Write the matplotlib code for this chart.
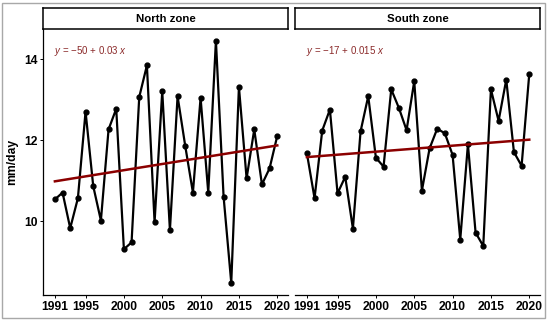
import matplotlib
matplotlib.use("Agg")
import matplotlib.pyplot as plt
from matplotlib.patches import Rectangle
import numpy as np

plt.rcParams['font.family'] = ['Liberation Sans', 'DejaVu Sans']
plt.rcParams['mathtext.fontset'] = 'custom'
plt.rcParams['mathtext.it'] = 'Liberation Sans:italic'
plt.rcParams['mathtext.rm'] = 'Liberation Sans'

years = list(range(1991, 2021))
north = [10.54, 10.71, 9.83, 10.57, 12.71, 10.87, 10.02, 12.27, 12.78, 9.31,
         9.48, 13.07, 13.85, 9.98, 13.21, 9.78, 13.09, 11.86, 10.71, 13.05,
         10.71, 14.46, 10.61, 8.48, 13.32, 11.06, 12.27, 10.91, 11.31, 12.11]
south = [11.68, 10.57, 12.24, 12.76, 10.69, 11.10, 9.82, 12.22, 13.09, 11.57,
         11.35, 13.26, 12.80, 12.25, 13.46, 10.76, 11.80, 12.29, 12.17, 11.64,
         9.55, 11.90, 9.72, 9.39, 13.26, 12.48, 13.50, 11.71, 11.37, 13.64]
zones = ["North zone", "South zone"]
equations = [r"$y$ = $-$50 + 0.03 $x$", r"$y$ = $-$17 + 0.015 $x$"]
xticks = [1991, 1995, 2000, 2005, 2010, 2015, 2020]
yticks = [10, 12, 14]

fig = plt.figure(figsize=(5.5, 3.21), dpi=100)
W, H = 550, 321

# grey frame around the whole picture
fig.patches.append(Rectangle((2 / W, 3 / H), 543 / W, 315 / H, transform=fig.transFigure,
                             fill=False, edgecolor='#a8a8a8', lw=1.0))

panels = [(43, 288), (295, 540)]
top, bottom = 29, 295
for i, (vals, name, eq) in enumerate(zip([north, south], zones, equations)):
    x0, x1 = panels[i]
    ax = fig.add_axes([x0 / W, 1 - bottom / H, (x1 - x0) / W, (bottom - top) / H])
    ax.plot(years, vals, color='black', lw=1.6, marker='o', ms=3.5, zorder=3)
    k, b = np.polyfit(years, vals, 1)
    xs = np.array([years[0], years[-1]])
    ax.plot(xs, k * xs + b, color='#8b0000', lw=1.8, zorder=4)
    ax.set_xlim(1989.45, 2021.4)
    ax.set_ylim(8.18, 14.75)
    ax.set_xticks(xticks)
    ax.set_yticks(yticks)
    for sp in ['top', 'right']:
        ax.spines[sp].set_visible(False)
    ax.spines['bottom'].set_linewidth(0.9)
    ax.spines['left'].set_linewidth(0.9)
    ax.tick_params(length=2.5, width=0.7, labelsize=8.7, pad=1.5)
    for lab in ax.get_xticklabels() + ax.get_yticklabels():
        lab.set_fontweight('bold')
    if i == 0:
        ax.set_ylabel("mm/day", fontsize=8.7, fontweight='bold', labelpad=4)
    else:
        ax.spines['left'].set_visible(False)
        ax.tick_params(axis='y', left=False, labelleft=False)
    ax.text(0.045, 0.917, eq, transform=ax.transAxes, fontsize=7,
            color='#8b2a2a', va='center', ha='left')

    # facet strip
    sax = fig.add_axes([x0 / W, 1 - 29 / H, (x1 - x0) / W, 21 / H])
    sax.set_xticks([])
    sax.set_yticks([])
    for sp in sax.spines.values():
        sp.set_linewidth(1.1)
    sax.text(0.5, 0.5, name, ha='center', va='center', fontsize=8.2, fontweight='bold')

fig.savefig("out.png", dpi=100)
